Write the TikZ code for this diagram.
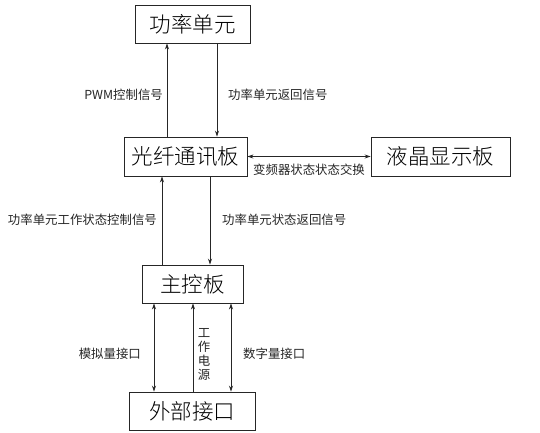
\documentclass[tikz,border=0pt]{standalone}
\usepackage{fontspec}
\setmainfont{Noto Sans CJK SC}
\newfontfamily\lightcjk{Noto Sans CJK SC Light}
\usetikzlibrary{arrows.meta}
\tikzset{
  box/.style={draw=black!85, line width=0.9pt, fill=white, inner sep=0pt, font=\lightcjk\fontsize{21.5}{24}\selectfont},
  lbl/.style={inner sep=0pt, font=\fontsize{12.4}{14}\selectfont, text=black!85},
  conn/.style={draw=black!85, line width=0.8pt},
  tip/.style={-{Stealth[length=6pt,width=4pt]}},
  dtip/.style={{Stealth[length=6pt,width=4pt]}-{Stealth[length=6pt,width=4pt]}}
}
\begin{document}
\begin{tikzpicture}[x=1pt,y=-1pt]
\useasboundingbox[fill=white] (0,0) rectangle (540,432);
\node[box, minimum width=115pt, minimum height=38pt] (top) at (192.5,24) {功率单元};
\node[box, minimum width=123pt, minimum height=39pt] (fiber) at (185.5,156.5) {光纤通讯板};
\node[box, minimum width=139pt, minimum height=39pt] (lcd) at (440.5,156.5) {液晶显示板};
\node[box, minimum width=101pt, minimum height=38pt] (main) at (192.5,284) {主控板};
\node[box, minimum width=126pt, minimum height=38pt] (ext) at (192,411) {外部接口};

\draw[conn,tip] (167,0 |- fiber.north) -- (167,0 |- top.south);
\draw[conn,tip] (217,0 |- top.south) -- (217,0 |- fiber.north);
\draw[conn,dtip] (fiber.east) -- (lcd.west);
\draw[conn,tip] (162,0 |- main.north) -- (162,0 |- fiber.south);
\draw[conn,tip] (210,0 |- fiber.south) -- (210,0 |- main.north);
\draw[conn,dtip] (154,0 |- main.south) -- (154,0 |- ext.north);
\draw[conn,tip] (193,0 |- ext.north) -- (193,0 |- main.south);
\draw[conn,dtip] (231,0 |- main.south) -- (231,0 |- ext.north);

\node[lbl, anchor=east] (l1) at (163,95) {PWM控制信号};
\node[lbl, anchor=west] (l2) at (228,95) {功率单元返回信号};
\node[lbl] (l3) at (309,170) {变频器状态状态交换};
\node[lbl, anchor=east] (l4) at (157,220) {功率单元工作状态控制信号};
\node[lbl, anchor=west] (l5) at (222,220) {功率单元状态返回信号};
\node[lbl, anchor=east] (l6) at (141,354) {模拟量接口};
\node[lbl, anchor=west] (l7) at (243,354) {数字量接口};
\node[lbl, align=center, font=\fontsize{12.4}{14}\selectfont] (l8) at (204,354) {工\\作\\电\\源};
\end{tikzpicture}
\end{document}
